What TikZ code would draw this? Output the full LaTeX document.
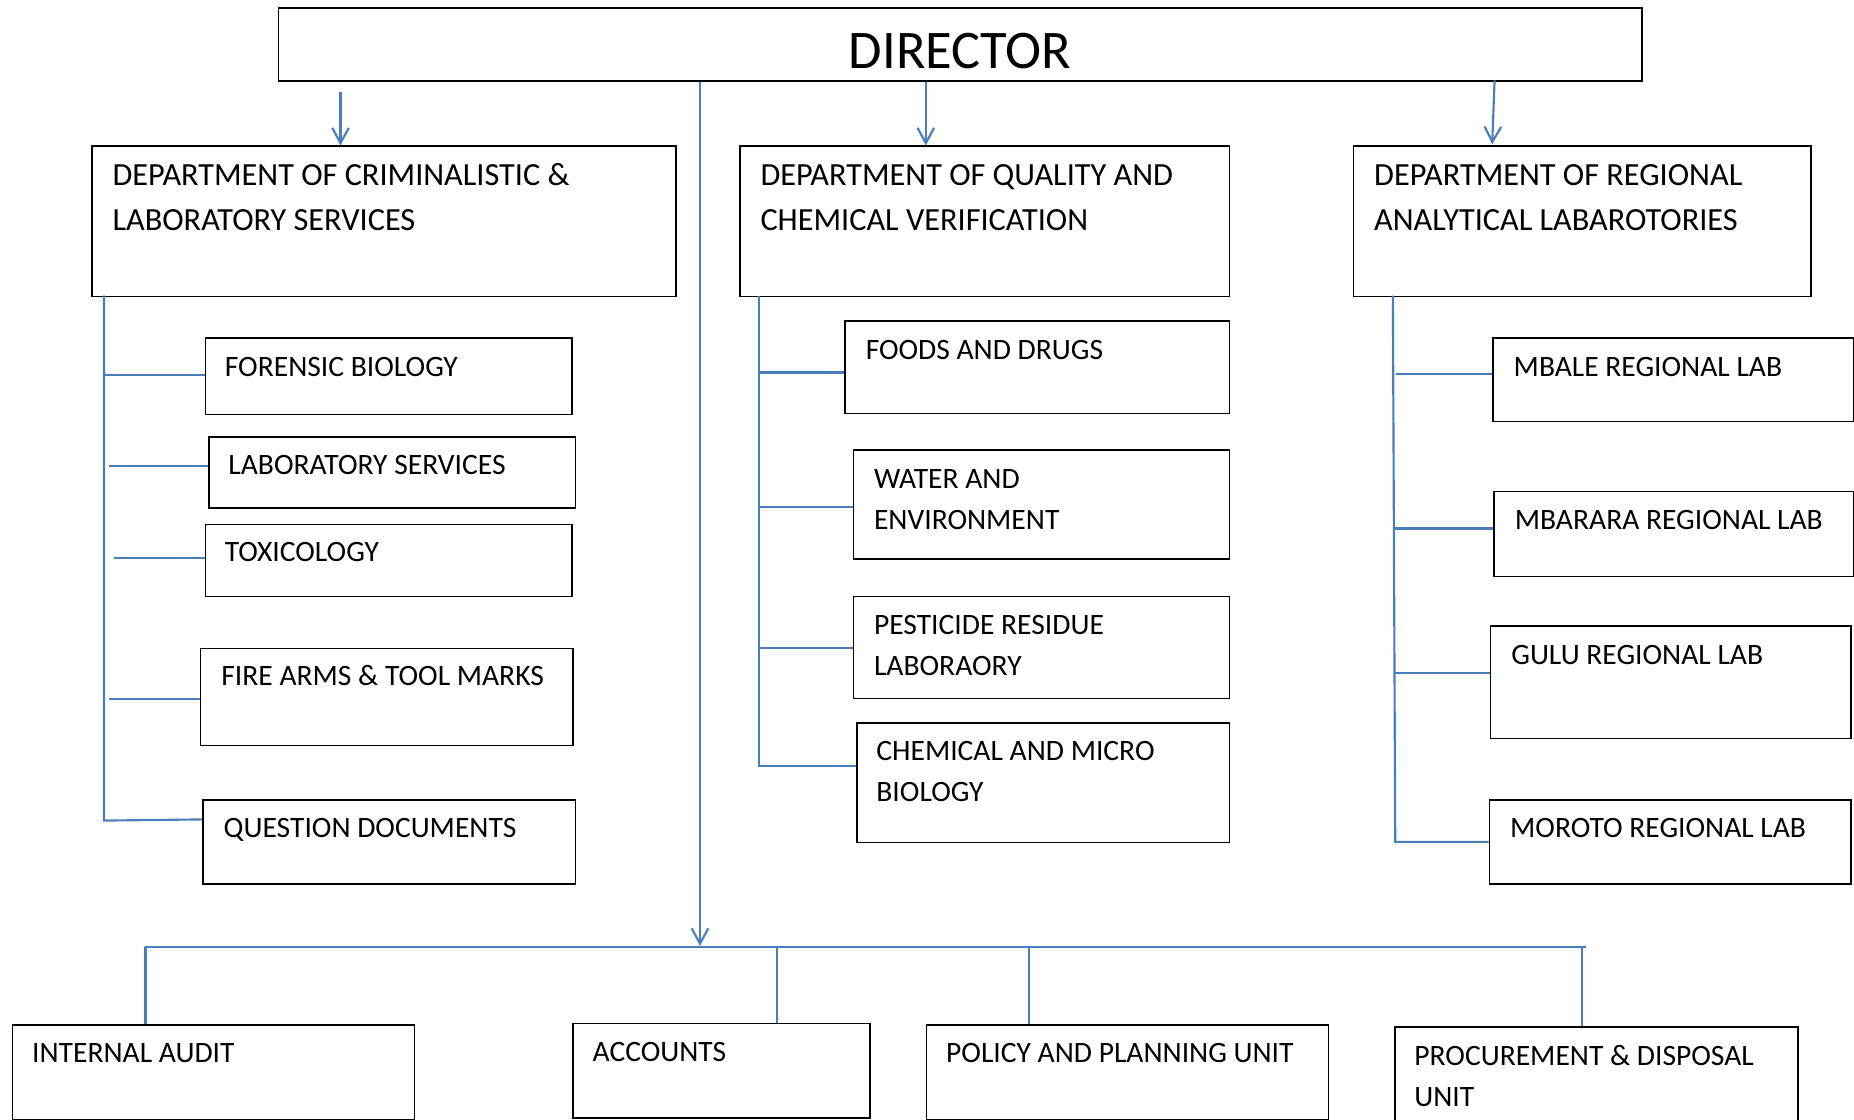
\documentclass[tikz,border=0pt]{standalone}
\usepackage{fontspec}
\setmainfont{Carlito}
\usetikzlibrary{arrows.meta}
\definecolor{linkblue}{HTML}{4A7EBB}

\begin{document}
\begin{tikzpicture}[x=1pt,y=-1pt,
  obox/.style={draw=black, line width=1.3pt, rectangle, inner sep=0pt, anchor=north west},
  lbl/.style={anchor=base west, inner sep=0pt, font=\fontsize{25}{30}\selectfont},
  dlbl/.style={lbl, font=\fontsize{27.3}{32}\selectfont},
  conn/.style={draw=linkblue, line width=1.8pt},
  arr/.style={conn, -{Straight Barb[length=13pt,width=14pt]}}]

\useasboundingbox[fill=white] (0,0) rectangle (1568,947);

% box from top-left (#2,#3) to bottom-right (#4,#5)
\newcommand\orgbox[5]{%
  \node[obox, minimum width={#4-#2}, minimum height={#5-#3}] (#1) at (#2,#3) {};}

% ---------- director ----------
\orgbox{dir}{235}{6}{1388}{68}
\node[anchor=base, inner sep=0pt, font=\fontsize{46}{50}\selectfont] (dirt) at (812,58) {DIRECTOR};

% ---------- departments ----------
\orgbox{d1}{77}{123}{571}{250}
\node[dlbl] (d1a) at (95,157) {DEPARTMENT OF CRIMINALISTIC \&};
\node[dlbl] (d1b) at (95,195) {LABORATORY SERVICES};

\orgbox{d2}{625}{123}{1039}{250}
\node[dlbl] (d2a) at (643,157) {DEPARTMENT OF QUALITY AND};
\node[dlbl] (d2b) at (643,195) {CHEMICAL VERIFICATION};

\orgbox{d3}{1144}{123}{1531}{250}
\node[dlbl] (d3a) at (1162,157) {DEPARTMENT OF REGIONAL};
\node[dlbl] (d3b) at (1162,195) {ANALYTICAL LABAROTORIES};

% arrows from the director
\coordinate (a1s) at (288,78);
\coordinate (a2x) at (783,0);
\coordinate (a3s) at (1264,68);
\draw[arr] (a1s) -- (d1.north -| a1s);
\draw[arr] (dir.south -| a2x) -- (d2.north -| a2x);
\draw[arr] (a3s) -- (1262,122);

% ---------- criminalistic units ----------
\orgbox{fb}{173}{285}{483}{350}
\node[lbl] (fbt) at (190,318) {FORENSIC BIOLOGY};
\orgbox{ls}{176}{369}{486}{429}
\node[lbl] (lst) at (193,401) {LABORATORY SERVICES};
\orgbox{tx}{173}{443}{483}{504}
\node[lbl] (txt) at (190,475) {TOXICOLOGY};
\orgbox{fa}{169}{548}{484}{630}
\node[lbl] (fat) at (187,580) {FIRE ARMS \& TOOL MARKS};
\orgbox{qd}{171}{676}{486}{747}
\node[lbl] (qdt) at (189,708) {QUESTION DOCUMENTS};

\coordinate (t1a) at (88,250);
\coordinate (t1b) at (88,694);
\draw[conn] (t1a) -- (t1b) -- (qd.west |- 0,693);
\draw[conn] (88,317) -- (fb.west |- 0,317);
\draw[conn] (92,394) -- (ls.west |- 0,394);
\draw[conn] (96,472) -- (tx.west |- 0,472);
\draw[conn] (92,591) -- (fa.west |- 0,591);

% ---------- quality units ----------
\orgbox{fd}{714}{271}{1039}{349}
\node[lbl] (fdt) at (732,304) {FOODS AND DRUGS};
\orgbox{we}{721}{380}{1039}{472}
\node[lbl] (wea) at (739,413) {WATER AND};
\node[lbl] (web) at (739,448) {ENVIRONMENT};
\orgbox{pr}{721}{504}{1039}{590}
\node[lbl] (pra) at (739,537) {PESTICIDE RESIDUE};
\node[lbl] (prb) at (739,571) {LABORAORY};
\orgbox{cm}{724}{611}{1039}{712}
\node[lbl] (cma) at (741,643) {CHEMICAL AND MICRO};
\node[lbl] (cmb) at (741,678) {BIOLOGY};

\coordinate (t2a) at (642,250);
\coordinate (t2b) at (642,648);
\draw[conn] (t2a) -- (t2b) -- (cm.west |- t2b);
\draw[conn] (642,315) -- (fd.west |- 0,315);
\draw[conn] (642,429) -- (we.west |- 0,429);
\draw[conn] (642,548) -- (pr.west |- 0,548);

% ---------- regional labs ----------
\orgbox{mb}{1262}{285}{1567}{356}
\node[lbl] (mbt) at (1280,318) {MBALE REGIONAL LAB};
\orgbox{mr}{1263}{415}{1567}{487}
\node[lbl] (mrt) at (1281,448) {MBARARA REGIONAL LAB};
\orgbox{gu}{1260}{529}{1565}{624}
\node[lbl] (gut) at (1278,562) {GULU REGIONAL LAB};
\orgbox{mo}{1259}{676}{1565}{747}
\node[lbl] (mot) at (1277,708) {MOROTO REGIONAL LAB};

\coordinate (t3a) at (1178,250);
\coordinate (t3b) at (1180,712);
\draw[conn] (t3a) -- (t3b) -- (mo.west |- t3b);
\draw[conn] (1181,316) -- (mb.west |- 0,316);
\draw[conn] (1180,447) -- (mr.west |- 0,447);
\draw[conn] (1179,569) -- (gu.west |- 0,569);

% ---------- support units ----------
\orgbox{ia}{10}{866}{350}{946}
\node[lbl] (iat) at (27,899) {INTERNAL AUDIT};
\orgbox{ac}{484}{865}{735}{945}
\node[lbl] (act) at (501,898) {ACCOUNTS};
\orgbox{pp}{783}{866}{1123}{946}
\node[lbl] (ppt) at (800,899) {POLICY AND PLANNING UNIT};
\orgbox{pd}{1179}{868}{1520}{960}
\node[lbl] (pda) at (1196,901) {PROCUREMENT \& DISPOSAL};
\node[lbl] (pdb) at (1196,936) {UNIT};

\coordinate (mainx) at (592,0);
\coordinate (hub) at (592,800);
\coordinate (barL) at (123,801);
\coordinate (barR) at (1341,801);
\draw[arr] (dir.south -| mainx) -- (hub);
\draw[conn] (barL) -- (barR);
\draw[conn] (barL) -- (ia.north -| barL);
\draw[conn] (657,801) -- (ac.north -| 657,0);
\draw[conn] (870,801) -- (pp.north -| 870,0);
\draw[conn] (1338,801) -- (pd.north -| 1338,0);

\end{tikzpicture}
\end{document}
